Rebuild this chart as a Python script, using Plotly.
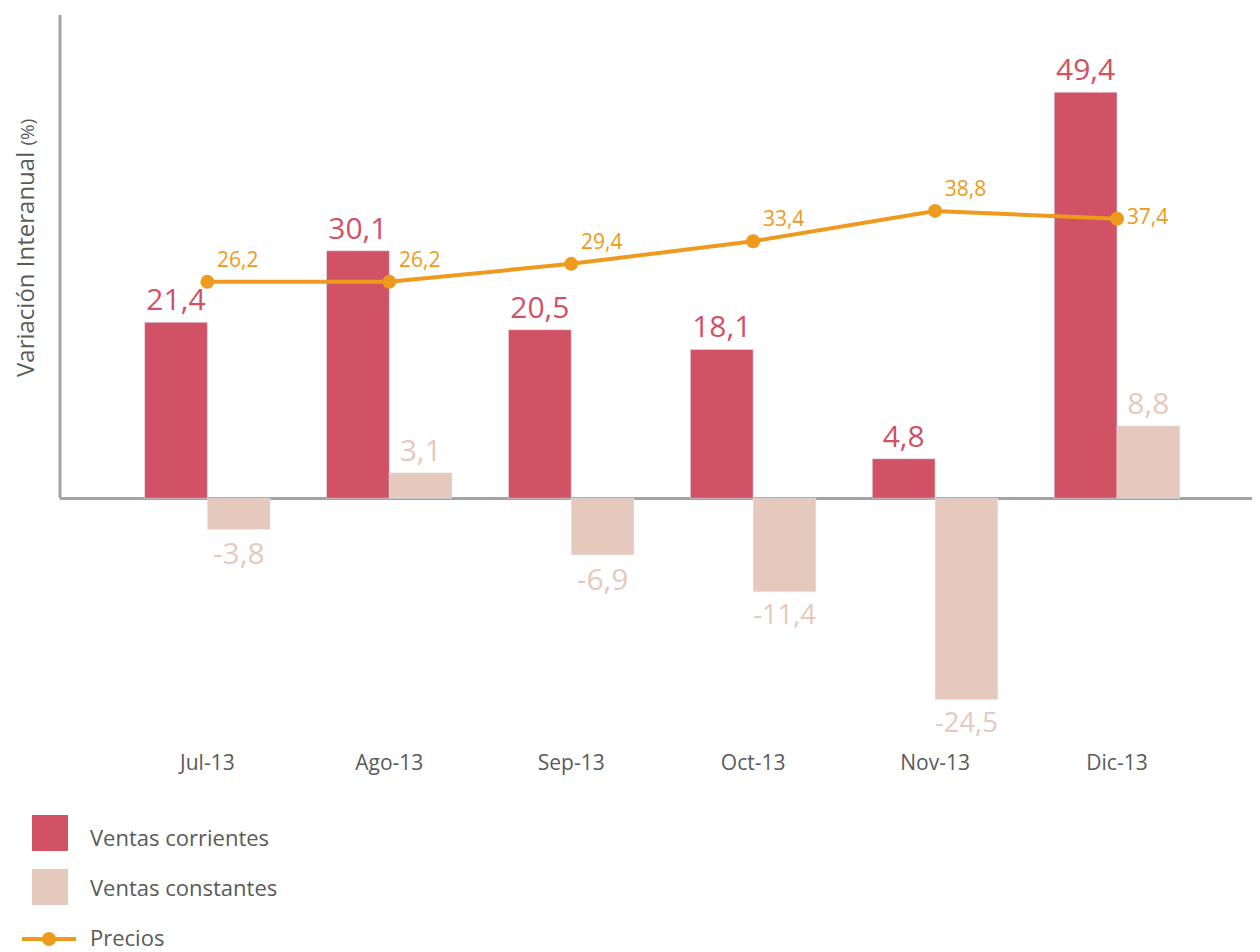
import plotly.graph_objects as go

meses = ["Jul-13", "Ago-13", "Sep-13", "Oct-13", "Nov-13", "Dic-13"]
ventas_corrientes = [21.4, 30.1, 20.5, 18.1, 4.8, 49.4]
ventas_constantes = [-3.8, 3.1, -6.9, -11.4, -24.5, 8.8]
precios = [26.2, 26.2, 29.4, 33.4, 38.8, 37.4]

ROJO = "#D05264"
ROSA = "#E5C9BD"
NARANJA = "#EE9A1C"
GRIS = "#5A5A5A"
EJE = "#A3A3A3"
FUENTE = "Open Sans"

# la página deja 8 px de margen arriba y a la izquierda
OFF = 8
W, H = 1260, 952
L, R, T, B = 60 - OFF, 0, 15 - OFF, 952 - (748 - OFF)
Y_RANGE = [-30.4, 58.8]
Y2_RANGE = [-56.6, 73.6]


def px_x(px):
    return (px - OFF - L) / (W - L - R)


def px_y(py):
    return (H - B - (py - OFF)) / (H - T - B)


fig = go.Figure()
fig.add_trace(go.Bar(
    x=meses, y=ventas_corrientes, name="Ventas corrientes",
    marker_color=ROJO, texttemplate="%{y:.1f}", textposition="outside",
    textfont=dict(size=30, color=ROJO, family=FUENTE), cliponaxis=False,
))
fig.add_trace(go.Bar(
    x=meses, y=ventas_constantes, name="Ventas constantes",
    marker_color=ROSA, texttemplate="%{y:.1f}", textposition="outside",
    textfont=dict(size=30, color=ROSA, family=FUENTE), cliponaxis=False,
))
fig.add_trace(go.Scatter(
    x=meses, y=precios, name="Precios", mode="lines+markers+text", yaxis="y2",
    line=dict(color=NARANJA, width=4), marker=dict(size=14, color=NARANJA),
    text=[f"{v:.1f}".replace(".", ",") for v in precios],
    textposition=["top right"] * 5 + ["middle right"],
    textfont=dict(size=21, color=NARANJA, family=FUENTE),
    cliponaxis=False,
))

# leyenda dibujada a mano (cuadros grandes como en el original)
shapes = [
    dict(type="line", xref="paper", yref="y", x0=0, x1=0, y0=0, y1=Y_RANGE[1],
         line=dict(color=EJE, width=3)),
    dict(type="rect", xref="paper", yref="paper", x0=px_x(32), x1=px_x(68),
         y0=px_y(851), y1=px_y(815), fillcolor=ROJO, line_width=0),
    dict(type="rect", xref="paper", yref="paper", x0=px_x(32), x1=px_x(68),
         y0=px_y(905), y1=px_y(869), fillcolor=ROSA, line_width=0),
    dict(type="line", xref="paper", yref="paper", x0=px_x(22), x1=px_x(76),
         y0=px_y(939), y1=px_y(939), line=dict(color=NARANJA, width=4)),
    dict(type="circle", xref="paper", yref="paper", x0=px_x(42), x1=px_x(56),
         y0=px_y(946), y1=px_y(932), fillcolor=NARANJA, line_width=0),
]
annotations = [
    dict(text=t, xref="paper", yref="paper", x=px_x(88), y=px_y(yc),
         xanchor="left", yanchor="middle", showarrow=False,
         font=dict(size=22, color=GRIS, family=FUENTE))
    for t, yc in [("Ventas corrientes", 837), ("Ventas constantes", 887), ("Precios", 937)]
]
annotations.append(dict(
    text="Variación Interanual <span style='font-size:19px'>(%)</span>",
    xref="paper", yref="paper", x=px_x(24), y=px_y(248), textangle=-90,
    xanchor="center", yanchor="middle", showarrow=False,
    font=dict(size=24, color=GRIS, family=FUENTE),
))

fig.update_layout(
    width=W, height=H, margin=dict(l=L, r=R, t=T, b=B),
    plot_bgcolor="white", paper_bgcolor="white",
    barmode="group", bargap=0.31, bargroupgap=0,
    separators=",.", showlegend=False,
    font=dict(family=FUENTE, color=GRIS),
    shapes=shapes, annotations=annotations,
    xaxis=dict(range=[-0.81, 5.83], showline=False, showgrid=False, ticks="",
               tickfont=dict(size=21, color=GRIS, family=FUENTE)),
    yaxis=dict(range=Y_RANGE, showgrid=False, showticklabels=False, showline=False,
               zeroline=True, zerolinecolor=EJE, zerolinewidth=3),
    yaxis2=dict(range=Y2_RANGE, overlaying="y", side="right", showgrid=False,
                showticklabels=False, showline=False, zeroline=False),
)

fig.write_html("out.html")
